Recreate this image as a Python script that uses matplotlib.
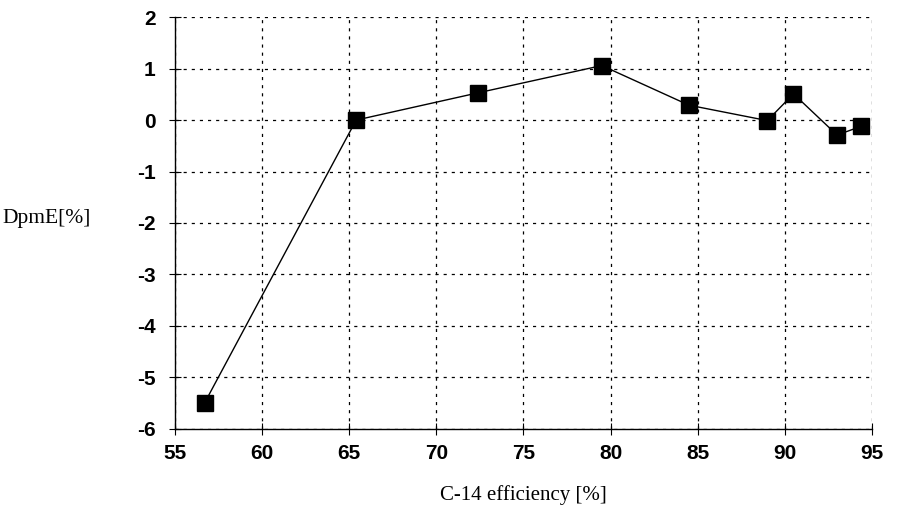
import matplotlib
matplotlib.use("Agg")
import matplotlib.pyplot as plt

plt.rcParams["axes.unicode_minus"] = False

efficiency = [56.7, 65.4, 72.4, 79.5, 84.5, 89.0, 90.5, 93.0, 94.4]
dpme = [-5.5, 0.0, 0.53, 1.06, 0.29, -0.01, 0.51, -0.29, -0.12]
x_ticks = [55, 60, 65, 70, 75, 80, 85, 90, 95]
y_ticks = [-6, -5, -4, -3, -2, -1, 0, 1, 2]

fig = plt.figure(figsize=(8.97, 5.21), dpi=100)
ax = fig.add_axes([0.195, 0.177, 0.777, 0.79])

ax.plot(efficiency, dpme, color="black", linewidth=1.0, marker="s",
        markersize=12, markerfacecolor="black", markeredgecolor="black", zorder=3)

ax.set_xlim(55, 95)
ax.set_ylim(-6, 2)
ax.set_xticks(x_ticks)
ax.set_yticks(y_ticks)
ax.grid(True, color="black", linestyle=(0, (2.5, 4)), linewidth=0.9)
ax.spines["top"].set_visible(False)
ax.spines["right"].set_visible(False)
ax.spines["left"].set_linewidth(1.0)
ax.spines["bottom"].set_linewidth(1.0)
ax.tick_params(direction="inout", length=8, width=0.8, labelsize=15)
ax.tick_params(axis="y", pad=10)
ax.tick_params(axis="x", pad=7)
for lab in ax.get_xticklabels() + ax.get_yticklabels():
    lab.set_family("Liberation Sans")
    lab.set_weight("bold")

ax.set_xlabel("C-14 efficiency [%]", family="Liberation Serif", fontsize=15, labelpad=16)
fig.text(0.003, 0.58, "DpmE[%]", family="Liberation Serif", fontsize=15.5,
         ha="left", va="center")

fig.savefig("out.png", dpi=100)
